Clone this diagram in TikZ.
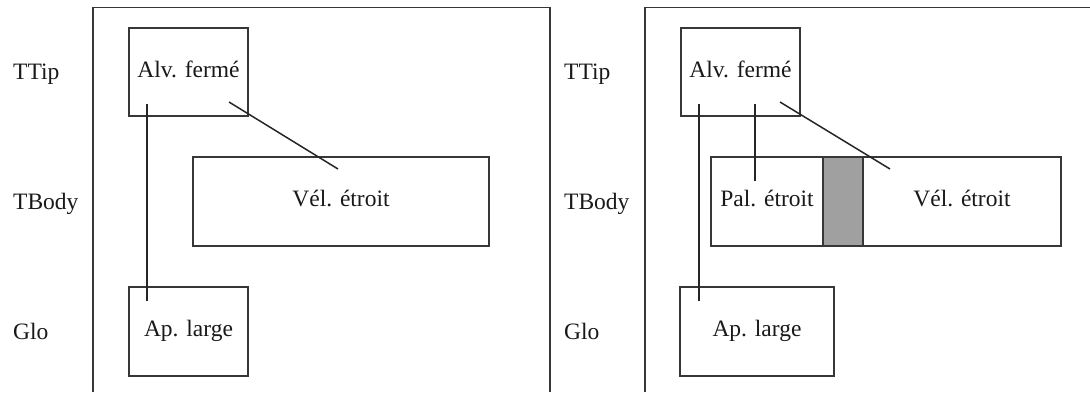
\documentclass[tikz,border=0pt]{standalone}
\usepackage{fontspec}
\setmainfont{Liberation Serif}
\usepackage{tikz}
\usepackage{xcolor}
\usetikzlibrary{positioning, calc}
\definecolor{inkgray}{RGB}{55,55,55}
\definecolor{bandgray}{RGB}{160,160,160}

\begin{document}
\begin{tikzpicture}[
  x=1pt, y=-1pt,
  font=\fontsize{23.5}{27}\selectfont,
  tier/.style={anchor=base west, inner sep=0pt, text=black!90},
  cell/.style={rectangle, draw=inkgray, line width=1.6pt, fill=white,
    minimum width=#1, minimum height=89pt, inner sep=0pt, outer sep=0pt,
    text height=1.3em, text depth=0.26em, text=black!90},
  band/.style={cell=40pt, fill=bandgray},
  frame/.style={draw=inkgray, line width=1.7pt},
  link/.style={draw=black!85, line width=1.5pt}
]
\useasboundingbox (0,0) rectangle (1090,392);
% panels
\draw[frame] (93,392) |- (550,7.5) -- (550,392);
\draw[frame] (645,392) |- (1092,7.5);
% tiers
\node[tier] (ttipL) at (13,79) {TTip};
\node[tier] (tbodyL) at (13,209) {TBody};
\node[tier] (gloL) at (13,339) {Glo};
\node[tier] (ttipR) at (564,79) {TTip};
\node[tier] (tbodyR) at (564,209) {TBody};
\node[tier] (gloR) at (564,339) {Glo};
% left panel
\node[cell=119pt, minimum height=88pt] (alvL) at (188.5,72) {Alv. fermé};
\node[cell=296pt] (velL) at (341,201.5) {Vél. étroit};
\node[cell=119pt] (apL) at (188.5,331.5) {Ap. large};
% right panel
\node[cell=119pt, minimum height=88pt] (alvR) at (740.5,72) {Alv. fermé};
\node[cell=112pt] (palR) at (767,201.5) {Pal. étroit};
\node[band, right=0pt of palR] (gapR) {};
\node[cell=198pt, right=0pt of gapR] (velR) {Vél. étroit};
\node[cell=154pt] (apR) at (757,331.5) {Ap. large};
% links
\coordinate (aL1) at ($(alvL.south west)+(18,-12)$);
\coordinate (aL2) at ($(alvL.south west)+(100,-14)$);
\coordinate (bL1) at ($(apL.north west)+(18,14)$);
\coordinate (bL2) at ($(velL.north west)+(145,12)$);
\coordinate (aR1) at ($(alvR.south west)+(18,-12)$);
\coordinate (aR2) at ($(alvR.south west)+(74,-12)$);
\coordinate (aR3) at ($(alvR.south west)+(99,-14)$);
\coordinate (bR1) at ($(apR.north west)+(19,14)$);
\coordinate (bR2) at ($(palR.north west)+(44,24)$);
\coordinate (bR3) at ($(velR.north west)+(27,12)$);
\draw[link] (aL1) -- (bL1);
\draw[link] (aL2) -- (bL2);
\draw[link] (aR1) -- (bR1);
\draw[link] (aR2) -- (bR2);
\draw[link] (aR3) -- (bR3);
\end{tikzpicture}
\end{document}
